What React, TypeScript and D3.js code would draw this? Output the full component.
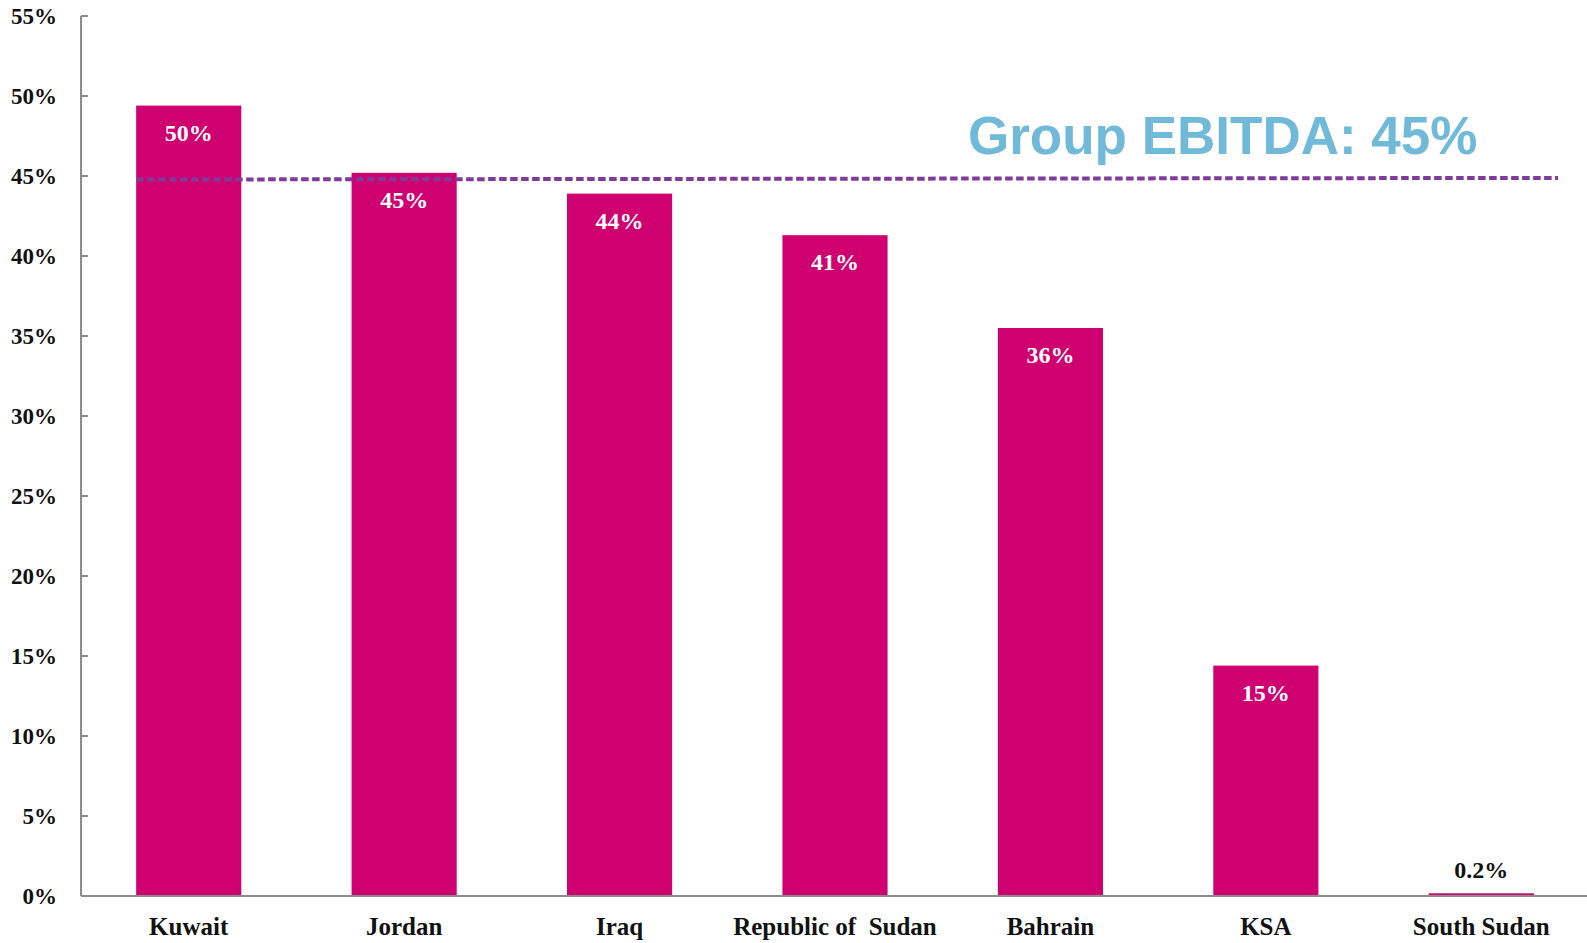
import React from "react";
import * as d3 from "d3";

const categories = ["Kuwait", "Jordan", "Iraq", "Republic of  Sudan", "Bahrain", "KSA", "South Sudan"];
const values = [49.4, 45.2, 43.9, 41.3, 35.5, 14.4, 0.17];
const valueLabels = ["50%", "45%", "44%", "41%", "36%", "15%", "0.2%"];
const yTicks = [0, 5, 10, 15, 20, 25, 30, 35, 40, 45, 50, 55];
const groupLine = [44.78, 44.88];
const groupLabel = "Group EBITDA: 45%";

const W = 1587;
const H = 943;
const serif = "'Liberation Serif', 'DejaVu Serif', serif";

export default function App() {
  const x = d3.scaleBand<string>().domain(categories).range([81, 1589]).paddingInner(0.512).paddingOuter(0.256);
  const y = d3.scaleLinear().domain([0, 55]).range([896, 16]);
  const bw = x.bandwidth();
  const xl = x(categories[0])!;
  const xr = 1558;

  return (
    <svg width={W} height={H} style={{ position: "absolute", left: 0, top: 0, background: "#fff" }}>
      {categories.map((c, i) => (
        <rect key={c} x={x(c)} y={y(values[i])} width={bw} height={y(0) - y(values[i])} fill="#CF006F" />
      ))}
      {categories.map((c, i) =>
        values[i] > 5 ? (
          <text key={c} x={x(c)! + bw / 2} y={y(values[i]) + 35} textAnchor="middle" fill="#fff"
            fontFamily={serif} fontWeight="bold" fontSize={24}>{valueLabels[i]}</text>
        ) : (
          <text key={c} x={x(c)! + bw / 2} y={y(values[i]) - 15} textAnchor="middle" fill="#111"
            fontFamily={serif} fontWeight="bold" fontSize={24}>{valueLabels[i]}</text>
        )
      )}
      <line x1={81} x2={81} y1={y(55)} y2={y(0)} stroke="#8c8c8c" strokeWidth={2} />
      <line x1={81} x2={1587} y1={y(0)} y2={y(0)} stroke="#8c8c8c" strokeWidth={2} />
      {yTicks.map((t) => (
        <g key={t}>
          <line x1={81} x2={88} y1={y(t)} y2={y(t)} stroke="#8c8c8c" strokeWidth={2} />
          <text x={57} y={y(t) + 8} textAnchor="end" fontFamily={serif} fontWeight="bold" fontSize={23} fill="#111">{t}%</text>
        </g>
      ))}
      {categories.map((c) => (
        <text key={c} x={x(c)! + bw / 2} y={935} textAnchor="middle" fontFamily={serif} fontWeight="bold" fontSize={25} fill="#111"
          style={{ whiteSpace: "pre" }}>{c}</text>
      ))}
      <line x1={xl} x2={xr} y1={y(groupLine[0])} y2={y(groupLine[1])} stroke="#7F3A9A" strokeWidth={4} strokeDasharray="7.5 3.5" />
      <text x={968} y={154} fontFamily="'Liberation Sans', Arial, sans-serif" fontWeight="bold" fontSize={53} fill="#70B9D9">{groupLabel}</text>
    </svg>
  );
}
